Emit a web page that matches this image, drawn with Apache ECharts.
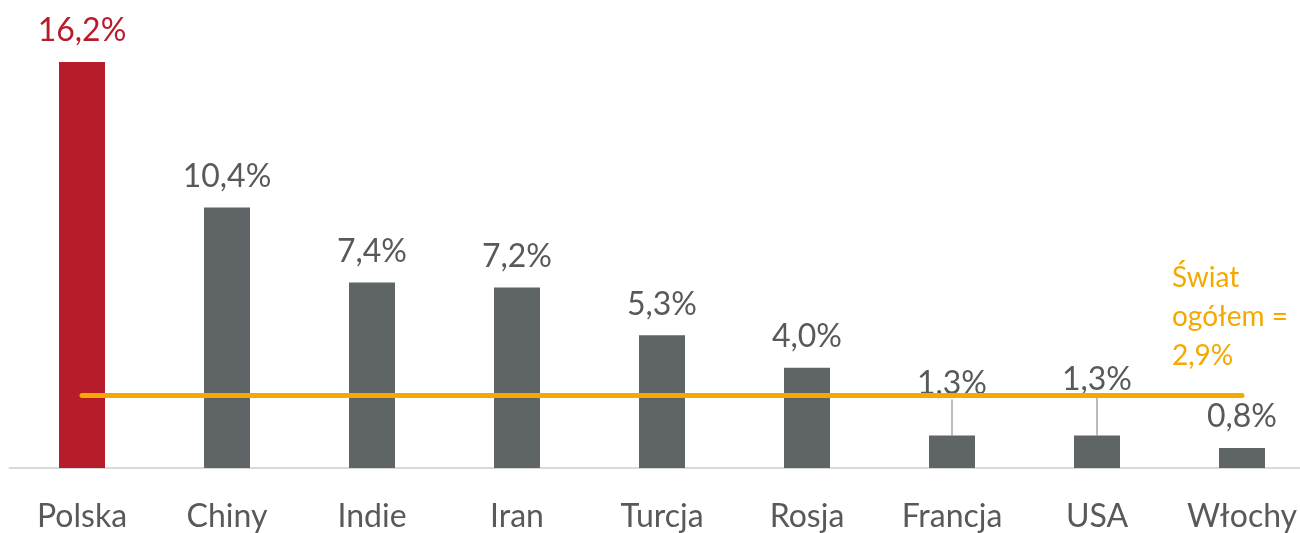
<!DOCTYPE html>
<html>
<head>
<meta charset="utf-8">
<script src="https://cdn.jsdelivr.net/npm/echarts@6/dist/echarts.min.js"></script>
<style>
  html, body { margin: 0; padding: 0; background: #fff; }
  #chart { width: 1300px; height: 533px; }
</style>
</head>
<body>
<div id="chart"></div>
<script>
const countries = ['Polska', 'Chiny', 'Indie', 'Iran', 'Turcja', 'Rosja', 'Francja', 'USA', 'Włochy']
const growth = [16.2, 10.4, 7.4, 7.2, 5.3, 4.0, 1.3, 1.3, 0.8]
const worldAvg = 2.9
const worldLabel = 'Świat\nogółem =\n2,9%'
// labels pushed up above the orange line (index -> dy)
const liftedLabels = { 6: -21, 7: -25 }

const chart = echarts.init(document.getElementById('chart'))

const fmt = (v) => v.toFixed(1).replace('.', ',') + '%'

chart.setOption({
  animation: false,
  textStyle: { fontFamily: 'Lato, "Open Sans", sans-serif' },
  grid: { left: 9.5, right: -14.5, top: 17, bottom: 65, outerBoundsMode: 'none' },
  xAxis: {
    type: 'category',
    data: countries,
    axisTick: { show: false },
    axisLine: { lineStyle: { color: '#d9d9d9', width: 2 } },
    axisLabel: { color: '#595959', fontSize: 32, margin: 33 },
  },
  yAxis: {
    type: 'value',
    min: 0,
    max: 18,
    show: false,
    splitLine: { show: false },
  },
  series: [
    {
      type: 'bar',
      barWidth: 46,
      data: growth.map((v, i) => ({
        value: v,
        itemStyle: { color: i === 0 ? '#b71c2b' : '#5f6467' },
        label: i === 0 ? { color: '#b71c2b' } : undefined,
        labelLine: { show: !!liftedLabels[i], lineStyle: { color: '#a6a6a6', width: 1.5 } },
      })),
      label: {
        show: true,
        position: 'top',
        distance: 15,
        fontSize: 32,
        color: '#595959',
        formatter: (p) => fmt(p.value),
      },
      labelLayout: (params) => {
        const dy = liftedLabels[params.dataIndex]
        return dy ? { dy } : {}
      },
      markLine: {
        silent: true,
        symbol: 'none',
        lineStyle: { color: '#f5a800', width: 5, type: 'solid', cap: 'round' },
        label: { show: false },
        data: [[{ coord: [0, worldAvg] }, { coord: [countries.length - 1, worldAvg] }]],
      },
      z: 2,
    },
  ],
  graphic: [
    {
      type: 'text',
      left: 1172,
      top: 258,
      style: {
        text: worldLabel,
        fill: '#f5a800',
        fontSize: 28,
        lineHeight: 39,
        fontFamily: 'Lato, "Open Sans", sans-serif',
      },
    },
  ],
})
</script>
</body>
</html>
